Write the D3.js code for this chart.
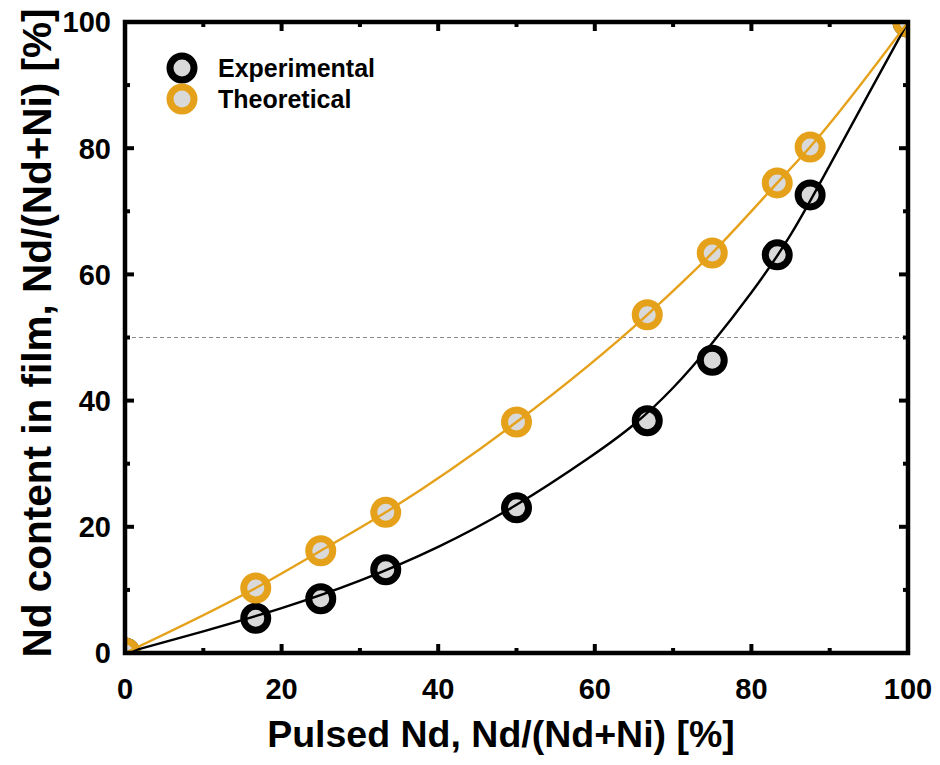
<!DOCTYPE html>
<html>
<head>
<meta charset="utf-8">
<script src="https://cdn.jsdelivr.net/npm/d3@7"></script>
<style>
  html, body { margin: 0; padding: 0; background: #fff; }
  svg { display: block; font-family: "Liberation Sans", Arial, sans-serif; }
</style>
</head>
<body>
<svg id="chart" width="940" height="765"></svg>
<script>
// Pulsed Nd fraction vs. Nd content in film
const pulsedX = [0, 16.7, 25, 33.3, 50, 66.7, 75, 83.3, 87.5, 100];
const experimentalY = [0, 5.5, 8.6, 13.2, 23.0, 36.8, 46.4, 63.1, 72.6, 100];
const theoreticalY = [0, 10.3, 16.2, 22.3, 36.6, 53.6, 63.4, 74.5, 80.2, 100];

// fitted trend curves
const expFitX = [0, 10, 20, 30, 40, 50, 60, 65, 70, 75, 80, 85, 90, 95, 100];
const expFitY = [0, 3.4, 7.0, 11.3, 16.6, 23.2, 31.5, 36.0, 41.8, 49.0, 57.0, 65.8, 77.3, 88.7, 100];
const theoFitX = [0, 16.7, 25, 33.3, 50, 66.7, 75, 83.3, 87.5, 100];
const theoFitY = [0, 10.3, 16.2, 22.3, 36.6, 53.6, 63.4, 74.5, 80.2, 100];

const xMajorTicks = [0, 20, 40, 60, 80, 100];
const xMinorTicks = [10, 30, 50, 70, 90];
const yMajorTicks = [0, 20, 40, 60, 80, 100];
const yMinorTicks = [10, 30, 50, 70, 90];
const refLevel = 50;

const seriesNames = ["Experimental", "Theoretical"];
const seriesColors = ["#000000", "#E5A11A"];
const markerFill = "#D9D9D9";

const svg = d3.select("#chart");
const plotLeft = 125, plotRight = 908, plotTop = 22, plotBottom = 653;

const x = d3.scaleLinear().domain([0, 100]).range([plotLeft, plotRight]);
const y = d3.scaleLinear().domain([0, 100]).range([plotBottom, plotTop]);

svg.append("defs").append("clipPath").attr("id", "plotClip")
  .append("rect").attr("x", plotLeft).attr("y", plotTop)
  .attr("width", plotRight - plotLeft).attr("height", plotBottom - plotTop);

const plot = svg.append("g").attr("clip-path", "url(#plotClip)");

// dashed 50% reference
plot.append("line")
  .attr("x1", x(0)).attr("x2", x(100))
  .attr("y1", y(refLevel)).attr("y2", y(refLevel))
  .attr("stroke", "#8a8a8a").attr("stroke-width", 1.2)
  .attr("stroke-dasharray", "4,3");

const markerR = 12, markerW = 7;
const ring = (g, xs, ys, color) => {
  g.selectAll(null).data(xs.map((v, i) => [v, ys[i]])).enter()
    .append("circle")
    .attr("cx", d => x(d[0])).attr("cy", d => y(d[1]))
    .attr("r", markerR)
    .attr("fill", markerFill)
    .attr("stroke", color).attr("stroke-width", markerW);
};

ring(plot.append("g"), pulsedX, experimentalY, seriesColors[0]);
ring(plot.append("g"), pulsedX, theoreticalY, seriesColors[1]);

const expLine = d3.line().x(d => x(d[0])).y(d => y(d[1])).curve(d3.curveBasis);
const theoLine = d3.line().x(d => x(d[0])).y(d => y(d[1])).curve(d3.curveMonotoneX);
plot.append("path")
  .datum(expFitX.map((v, i) => [v, expFitY[i]]))
  .attr("d", expLine).attr("fill", "none")
  .attr("stroke", seriesColors[0]).attr("stroke-width", 2.4);
plot.append("path")
  .datum(theoFitX.map((v, i) => [v, theoFitY[i]]))
  .attr("d", theoLine).attr("fill", "none")
  .attr("stroke", seriesColors[1]).attr("stroke-width", 2.4);

// frame and inward ticks
const axisW = 4.5;
svg.append("rect")
  .attr("x", plotLeft).attr("y", plotTop)
  .attr("width", plotRight - plotLeft).attr("height", plotBottom - plotTop)
  .attr("fill", "none").attr("stroke", "#000").attr("stroke-width", axisW);

const ticks = svg.append("g").attr("stroke", "#000").attr("stroke-width", 4);
const major = 9, minor = 5;
xMajorTicks.concat(xMinorTicks).forEach(t => {
  const len = xMajorTicks.includes(t) ? major : minor;
  ticks.append("line").attr("x1", x(t)).attr("x2", x(t)).attr("y1", plotBottom).attr("y2", plotBottom - len);
  ticks.append("line").attr("x1", x(t)).attr("x2", x(t)).attr("y1", plotTop).attr("y2", plotTop + len);
});
yMajorTicks.concat(yMinorTicks).forEach(t => {
  const len = yMajorTicks.includes(t) ? major : minor;
  ticks.append("line").attr("y1", y(t)).attr("y2", y(t)).attr("x1", plotLeft).attr("x2", plotLeft + len);
  ticks.append("line").attr("y1", y(t)).attr("y2", y(t)).attr("x1", plotRight).attr("x2", plotRight - len);
});

// tick labels
svg.append("g").selectAll("text").data(xMajorTicks).enter().append("text")
  .attr("x", d => x(d)).attr("y", 699)
  .attr("text-anchor", "middle")
  .attr("font-size", 29).attr("font-weight", "bold")
  .text(d => d);
svg.append("g").selectAll("text").data(yMajorTicks).enter().append("text")
  .attr("x", 111).attr("y", d => y(d)).attr("dy", "0.36em")
  .attr("text-anchor", "end")
  .attr("font-size", 29).attr("font-weight", "bold")
  .text(d => d);

// axis titles
svg.append("text")
  .attr("x", 501).attr("y", 747)
  .attr("text-anchor", "middle")
  .attr("font-size", 37.5).attr("font-weight", "bold")
  .text("Pulsed Nd, Nd/(Nd+Ni) [%]");
svg.append("text")
  .attr("transform", "translate(51,333) rotate(-90)")
  .attr("text-anchor", "middle")
  .attr("font-size", 40.5).attr("font-weight", "bold")
  .text("Nd content in film, Nd/(Nd+Ni) [%]");

// legend
const legend = svg.append("g");
seriesNames.forEach((name, i) => {
  const cy = 68 + i * 31;
  legend.append("circle").attr("cx", 182).attr("cy", cy).attr("r", markerR)
    .attr("fill", markerFill).attr("stroke", seriesColors[i]).attr("stroke-width", markerW);
  legend.append("text").attr("x", 218).attr("y", cy).attr("dy", "0.36em")
    .attr("font-size", 25).attr("font-weight", "bold")
    .text(name);
});
</script>
</body>
</html>
